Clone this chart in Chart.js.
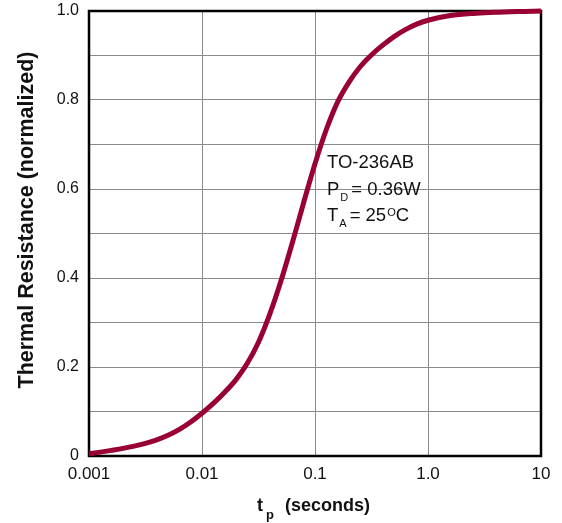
<!DOCTYPE html>
<html>
<head>
<meta charset="utf-8">
<script src="https://cdn.jsdelivr.net/npm/chart.js@4"></script>
<style>
  html, body { margin: 0; padding: 0; background: #fff; }
  #wrap { width: 562px; height: 523px; }
</style>
</head>
<body>
<div id="wrap"><canvas id="c" width="562" height="523"></canvas></div>
<script>
const tpSeconds = [
  0.001, 0.00126, 0.00158, 0.002, 0.00251, 0.00316, 0.00398, 0.00501, 0.00631, 0.00794,
  0.01, 0.0126, 0.0158, 0.02, 0.0251, 0.0316, 0.0398, 0.0501, 0.0631, 0.0794,
  0.1, 0.126, 0.158, 0.2, 0.251, 0.316, 0.398, 0.501, 0.631, 0.794,
  1.0, 1.58, 2.51, 3.98, 6.31, 10
];
const thermalResistance = [
  0.005, 0.0087, 0.0127, 0.0171, 0.0221, 0.0283, 0.0363, 0.0465, 0.0598, 0.0765,
  0.0962, 0.1182, 0.1427, 0.1717, 0.2077, 0.2557, 0.3187, 0.3942, 0.4797, 0.5697,
  0.6567, 0.7337, 0.7947, 0.8402, 0.8747, 0.9012, 0.9232, 0.9425, 0.9582, 0.9705,
  0.9792, 0.9897, 0.9946, 0.997, 0.999, 1.0
];

const xTickValues = [0.001, 0.01, 0.1, 1, 10];
const xTickLabels = ['0.001', '0.01', '0.1', '1.0', '10'];
const yTickValues = [0, 0.1, 0.2, 0.3, 0.4, 0.5, 0.6, 0.7, 0.8, 0.9, 1.0];
const yTickLabels = ['0', '', '0.2', '', '0.4', '', '0.6', '', '0.8', '', '1.0'];

const annotationLines = [
  [{ t: 'TO-236AB' }],
  [{ t: 'P' }, { t: 'D', sub: true }, { t: '= 0.36W' }],
  [{ t: 'T' }, { t: 'A', sub: true }, { t: '= 25' }, { t: 'O', sup: true }, { t: 'C' }]
];
const yTitle = 'Thermal Resistance (normalized)';
const xTitleMain = 't';
const xTitleSub = 'p';
const xTitleRest = '(seconds)';

const FONT = '"Liberation Sans", Arial, Helvetica, sans-serif';

const points = tpSeconds.map((x, i) => ({ x: x, y: thermalResistance[i] }));

const decorPlugin = {
  id: 'decor',
  beforeDatasetsDraw(chart) {
    const { ctx, chartArea: a } = chart;
    ctx.save();
    ctx.strokeStyle = '#000';
    ctx.lineWidth = 2.5;
    ctx.strokeRect(a.left, a.top, a.right - a.left, a.bottom - a.top);
    ctx.restore();
  },
  afterDraw(chart) {
    const { ctx } = chart;
    ctx.save();
    ctx.fillStyle = '#111';
    // annotation
    const baseX = 327;
    const baselines = [168, 195, 221];
    annotationLines.forEach((line, li) => {
      let x = baseX;
      const by = baselines[li];
      line.forEach((seg) => {
        if (seg.sub) {
          ctx.font = '11px ' + FONT;
          ctx.fillText(seg.t, x + 1, by + 6);
          x += ctx.measureText(seg.t).width + 4;
        } else if (seg.sup) {
          ctx.font = '11px ' + FONT;
          ctx.fillText(seg.t, x + 1, by - 5);
          x += ctx.measureText(seg.t).width + 1;
        } else {
          ctx.font = '18.5px ' + FONT;
          ctx.fillText(seg.t, x, by);
          x += ctx.measureText(seg.t).width;
        }
      });
    });
    // x title
    ctx.font = 'bold 18px ' + FONT;
    ctx.fillText(xTitleMain, 257, 511);
    ctx.font = 'bold 13px ' + FONT;
    ctx.fillText(xTitleSub, 266, 519);
    ctx.font = 'bold 18px ' + FONT;
    ctx.fillText(xTitleRest, 285, 511);
    // y title
    ctx.translate(33, 220);
    ctx.rotate(-Math.PI / 2);
    ctx.font = 'bold 21.5px ' + FONT;
    ctx.textAlign = 'center';
    ctx.textBaseline = 'alphabetic';
    ctx.fillText(yTitle, 0, 0);
    ctx.restore();
  }
};

new Chart(document.getElementById('c'), {
  type: 'line',
  data: {
    datasets: [{
      data: points,
      borderColor: '#990033',
      borderWidth: 5,
      pointRadius: 0,
      fill: false,
      cubicInterpolationMode: 'monotone',
      clip: false
    }]
  },
  options: {
    responsive: false,
    animation: false,
    devicePixelRatio: 1,
    layout: { padding: { left: 0, right: 21, top: 11, bottom: 0 } },
    plugins: { legend: { display: false }, tooltip: { enabled: false } },
    scales: {
      x: {
        type: 'logarithmic',
        min: 0.001,
        max: 10,
        afterBuildTicks(scale) { scale.ticks = xTickValues.map(v => ({ value: v })); },
        afterFit(scale) { scale.height = 67; scale.paddingLeft = 0; scale.paddingRight = 0; },
        ticks: {
          autoSkip: false,
          maxRotation: 0,
          padding: 8,
          color: '#111',
          font: { family: FONT, size: 17 },
          callback(value) {
            const i = xTickValues.findIndex(v => Math.abs(Math.log10(v) - Math.log10(value)) < 1e-6);
            return i >= 0 ? xTickLabels[i] : '';
          }
        },
        grid: { color: '#8a8a8a', lineWidth: 1, drawTicks: false },
        border: { display: false }
      },
      y: {
        min: 0,
        max: 1,
        afterBuildTicks(scale) { scale.ticks = yTickValues.map(v => ({ value: v })); },
        afterFit(scale) { scale.width = 89; scale.paddingTop = 0; scale.paddingBottom = 0; },
        ticks: {
          autoSkip: false,
          padding: 10,
          color: '#111',
          font: { family: FONT, size: 16 },
          callback(value, index) { return yTickLabels[index]; }
        },
        grid: { color: '#8a8a8a', lineWidth: 1, drawTicks: false },
        border: { display: false }
      }
    }
  },
  plugins: [decorPlugin]
});
</script>
</body>
</html>
